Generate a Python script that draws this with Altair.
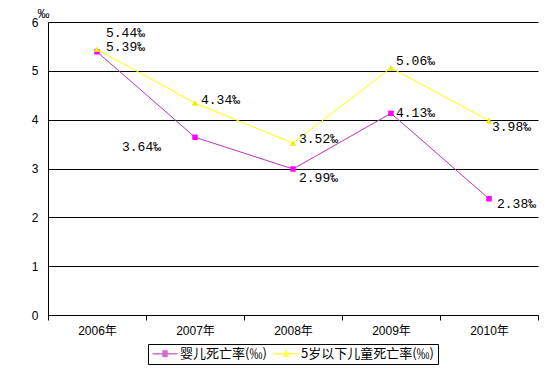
import altair as alt
import pandas as pd

years = ["2006年", "2007年", "2008年", "2009年", "2010年"]
series_names = ["婴儿死亡率(‰)", "5岁以下儿童死亡率(‰)"]
infant = [5.39, 3.64, 2.99, 4.13, 2.38]
under5 = [5.44, 4.34, 3.52, 5.06, 3.98]
y_ticks = [0, 1, 2, 3, 4, 5, 6]

line_colors = ["#C030C0", "#FFFF00"]
marker_colors = ["#FF00FF", "#EEEE00"]

rows = []
for s, vals in enumerate([infant, under5]):
    for i, yr in enumerate(years):
        rows.append({"year": yr, "series": series_names[s], "s": s, "i": i,
                     "value": vals[i], "label": f"{vals[i]:.2f}‰"})
df = pd.DataFrame(rows)

# label placement (dx, dy, align) per (series, year index)
place = {
    (0, 0): (9, -5, "left"), (0, 1): (-34, 10, "right"), (0, 2): (6, 9, "left"),
    (0, 3): (5, 0, "left"), (0, 4): (8, 5, "left"),
    (1, 0): (9, -16, "left"), (1, 1): (6, -3, "left"), (1, 2): (6, -4, "left"),
    (1, 3): (5, -7, "left"), (1, 4): (3, 6, "left"),
}

FONT = "Liberation Sans, Noto Sans CJK SC, sans-serif"
CJK = "Noto Sans CJK SC, sans-serif"

x_enc = alt.X("year:N", sort=years,
              scale=alt.Scale(type="band", paddingInner=0, paddingOuter=0),
              axis=alt.Axis(title=None, labelAngle=0, grid=False, tickBand="extent",
                            tickSize=5, tickColor="black", domainColor="black",
                            labelPadding=5, labelFontSize=12, labelFont=FONT,
                            labelColor="black"))
y_enc = alt.Y("value:Q", scale=alt.Scale(domain=[0, 6], nice=False),
              axis=alt.Axis(title="‰", titleAngle=0, titleX=-5, titleY=-9,
                            titleAlign="center", titleBaseline="middle",
                            titleFontSize=12, titleFontWeight="normal", titleFont=FONT,
                            values=y_ticks, ticks=False, labelPadding=10,
                            labelFontSize=12, labelFont=FONT, labelColor="black",
                            grid=True, gridColor="black", gridOpacity=1,
                            domainColor="black"))

base = alt.Chart(df)
color_scale = alt.Scale(domain=series_names, range=line_colors)

sq = "M-1,0H4M1.1,-0.55H1.9V0.55H1.1ZM1.1,-0.25H1.9M1.1,0H1.9M1.1,0.25H1.9"
tri = "M-1,0H4M1.5,-0.6L2,0.45H1ZM1.3,0.2H1.7M1.4,-0.1H1.6"

leg = alt.Legend(title=None, orient="none", legendX=100, legendY=322,
                 direction="horizontal", strokeColor="black",
                 fillColor="white", padding=3, symbolSize=100,
                 labelOffset=16, columnPadding=3,
                 labelFont=CJK, labelFontSize=13,
                 labelColor="black", cornerRadius=0)

legend_layer = base.mark_point(size=0, filled=False, strokeWidth=1.5).encode(
    x=x_enc, y=y_enc,
    color=alt.Color("series:N", scale=color_scale, legend=leg),
    shape=alt.Shape("series:N", scale=alt.Scale(domain=series_names, range=[sq, tri]),
                    legend=leg)
)

line_layers = [
    base.transform_filter(alt.datum.s == s).mark_line(
        strokeWidth=1, color=line_colors[s]
    ).encode(x=x_enc, y=y_enc, order="i:Q")
    for s in range(2)
]

pts_inf = base.transform_filter(alt.datum.s == 0).mark_point(
    shape="square", filled=True, size=30, opacity=1, color=marker_colors[0]
).encode(x=x_enc, y=y_enc)
pts_u5 = base.transform_filter(alt.datum.s == 1).mark_point(
    shape="triangle-up", filled=True, size=40, opacity=1, color=marker_colors[1]
).encode(x=x_enc, y=y_enc)

groups = {}
for key, p in place.items():
    groups.setdefault(p, []).append(key)

text_layers = []
for (dx, dy, align), keys in groups.items():
    cond = " || ".join(f"(datum.s == {s} && datum.i == {i})" for s, i in keys)
    text_layers.append(
        base.transform_filter(cond).mark_text(
            dx=dx, dy=dy, align=align, baseline="middle",
            font="Liberation Mono, DejaVu Sans Mono, monospace", fontSize=13, color="black"
        ).encode(x=x_enc, y=y_enc, text="label:N")
    )

chart = alt.layer(legend_layer, *line_layers, pts_inf, pts_u5, *text_layers).properties(
    width=490, height=293,
    autosize=alt.AutoSizeParams(type="none"),
    padding={"left": 40, "top": 14, "right": 8, "bottom": 56},
    background="white"
).configure_view(stroke=None)

chart.save("out.html", embed_options={"renderer": "svg", "actions": False})
